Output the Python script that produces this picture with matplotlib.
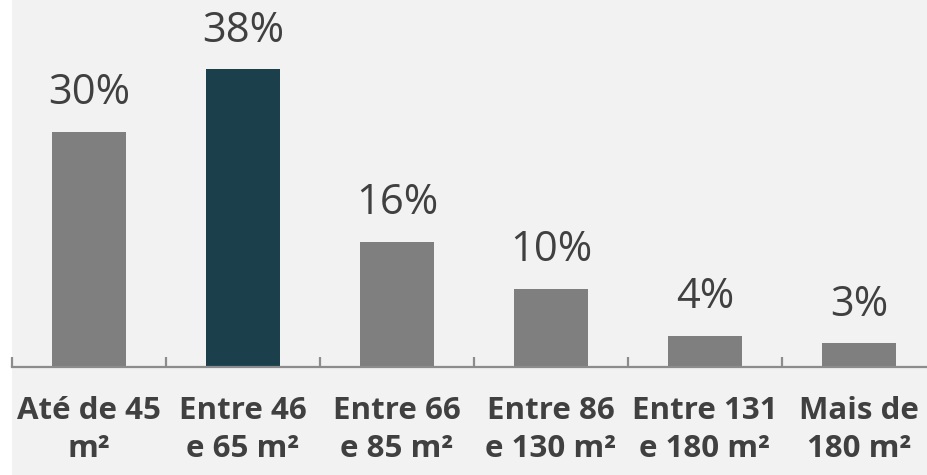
import matplotlib.pyplot as plt
from matplotlib.patches import Rectangle

categories = ["Até de 45\nm²", "Entre 46\ne 65 m²", "Entre 66\ne 85 m²",
              "Entre 86\ne 130 m²", "Entre 131\ne 180 m²", "Mais de\n180 m²"]
shares = [30, 38, 16, 10, 4, 3]
highlight = 1

GRAY = "#7f7f7f"
TEAL = "#1b404c"
TEXT = "#404040"
BG = "#f2f2f2"

plt.rcParams["font.family"] = ["Open Sans", "DejaVu Sans"]

W, H = 928, 475
fig = plt.figure(figsize=(W / 100, H / 100), dpi=100)
fig.patch.set_facecolor(BG)
# thin white strip on the left edge
fig.patches.append(Rectangle((0, 0), 12 / W, 1, transform=fig.transFigure,
                             facecolor="white", edgecolor="none", zorder=-1))

axis_y = 367
ax = fig.add_axes([12 / W, (H - axis_y) / H, 924 / W, axis_y / H])
ax.set_facecolor("none")

x = range(len(shares))
colors = [TEAL if i == highlight else GRAY for i in x]
bars = ax.bar(x, shares, width=0.48, color=colors, zorder=2)

for rect, v in zip(bars, shares):
    ax.annotate(f"{v}%", (rect.get_x() + rect.get_width() / 2, v),
                xytext=(0, 12.5), textcoords="offset points",
                ha="center", va="bottom", fontsize=30, color=TEXT)

ax.set_xlim(-0.5, 5.5)
ax.set_ylim(0, 46.8)

for side in ("top", "right", "left"):
    ax.spines[side].set_visible(False)
ax.spines["bottom"].set_color("#8c8c8c")
ax.spines["bottom"].set_linewidth(1.6)
ax.set_yticks([])

ax.set_xticks(list(x))
ax.set_xticklabels(categories, fontsize=22.5, fontweight="bold", color=TEXT,
                   linespacing=1.35)
ax.tick_params(axis="x", which="major", length=0, pad=21)
ax.set_xticks([i - 0.5 for i in range(len(shares) + 1)], minor=True)
ax.tick_params(axis="x", which="minor", direction="in", length=7,
               width=1.6, color="#8c8c8c")

fig.savefig("out.png", dpi=100, facecolor=fig.get_facecolor())
